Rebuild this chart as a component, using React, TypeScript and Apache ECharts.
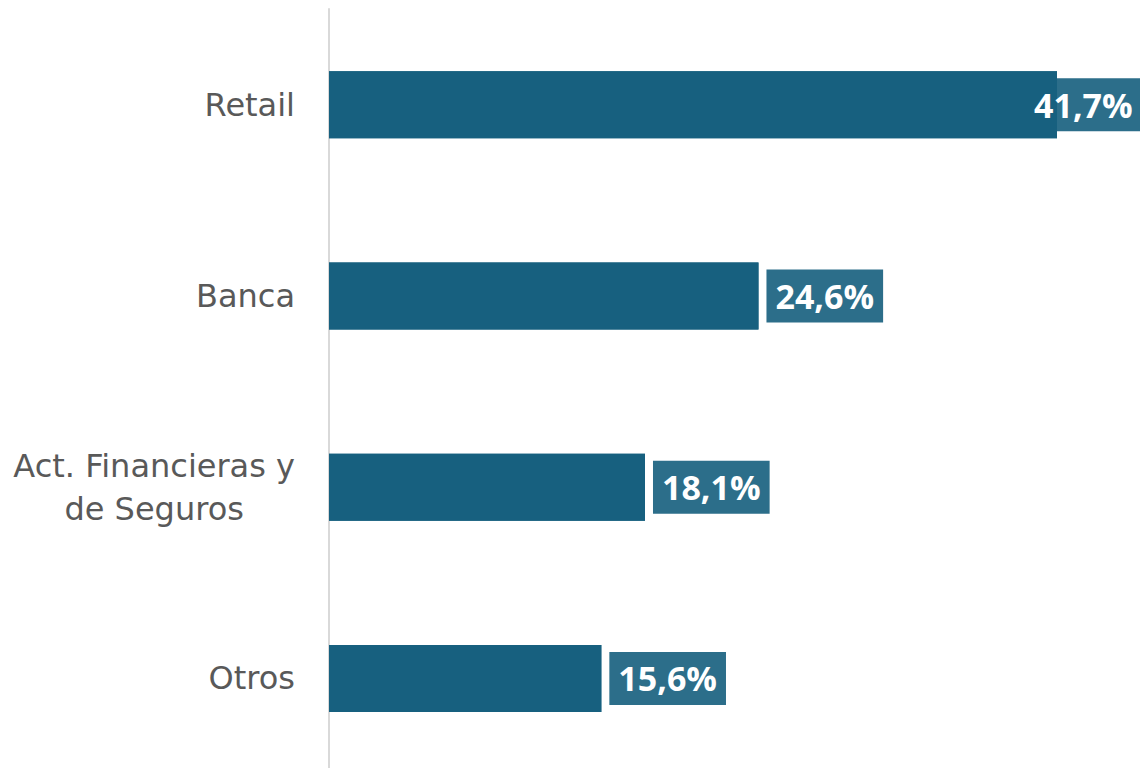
import React, { useEffect, useRef } from "react";
import * as echarts from "echarts";

const categories = ["Retail", "Banca", "Act. Financieras y\nde Seguros", "Otros"];
const values = [41.7, 24.6, 18.1, 15.6];
const labelOffsets = [[-40, 0], [0, 0], [0, 0], [0, 0]];

const BAR = "#17607f";
const LABEL_BG = "#2c6e8a";

const fmt = (v: number) => v.toFixed(1).replace(".", ",") + "%";

export default function App() {
  const ref = useRef<HTMLDivElement>(null);
  useEffect(() => {
    const chart = echarts.init(ref.current!, null, { renderer: "svg" });
    const baseLabel = {
      show: true,
      position: "right",
      distance: 8,
      fontFamily: "Open Sans",
      fontWeight: "bold",
      fontSize: 34,
      lineHeight: 40,
      padding: [7, 9, 6, 9],
      formatter: (p: any) => fmt(p.value),
    };
    chart.setOption({
      animation: false,
      grid: { left: 329, right: 83, top: 9, height: 765, containLabel: false },
      xAxis: {
        type: "value",
        min: 0,
        max: 41.7,
        show: false,
      },
      yAxis: {
        type: "category",
        data: categories,
        inverse: true,
        axisLine: { show: true, lineStyle: { color: "#d9d9d9", width: 2 } },
        axisTick: { show: false },
        axisLabel: {
          margin: 34,
          align: "right",
          color: "#595959",
          fontFamily: "DejaVu Sans",
          fontSize: 32,
          lineHeight: 43,
          formatter: (v: string) => v.split("\n").map((s) => `{a|${s}}`).join("\n"),
          rich: { a: { align: "center", fontFamily: "DejaVu Sans", fontSize: 32, lineHeight: 43, color: "#595959" } },
        },
      },
      series: [
        {
          type: "bar",
          z: 2,
          barWidth: 67,
          barGap: "-100%",
          itemStyle: { color: BAR },
          data: values.map((v, i) => ({
            value: v,
            label: { ...baseLabel, offset: labelOffsets[i], color: "rgba(0,0,0,0)", backgroundColor: LABEL_BG },
          })),
        },
        {
          type: "bar",
          z: 3,
          barWidth: 67,
          barGap: "-100%",
          itemStyle: { color: BAR },
          data: values.map((v, i) => ({
            value: v,
            label: { ...baseLabel, offset: labelOffsets[i], color: "#ffffff" },
          })),
        },
      ],
    });
    return () => chart.dispose();
  }, []);
  return (
    <div style={{ position: "absolute", left: 0, top: 0, width: 1140, height: 768, overflow: "hidden", background: "#ffffff" }}>
      <div ref={ref} style={{ width: 1140, height: 776 }} />
    </div>
  );
}
